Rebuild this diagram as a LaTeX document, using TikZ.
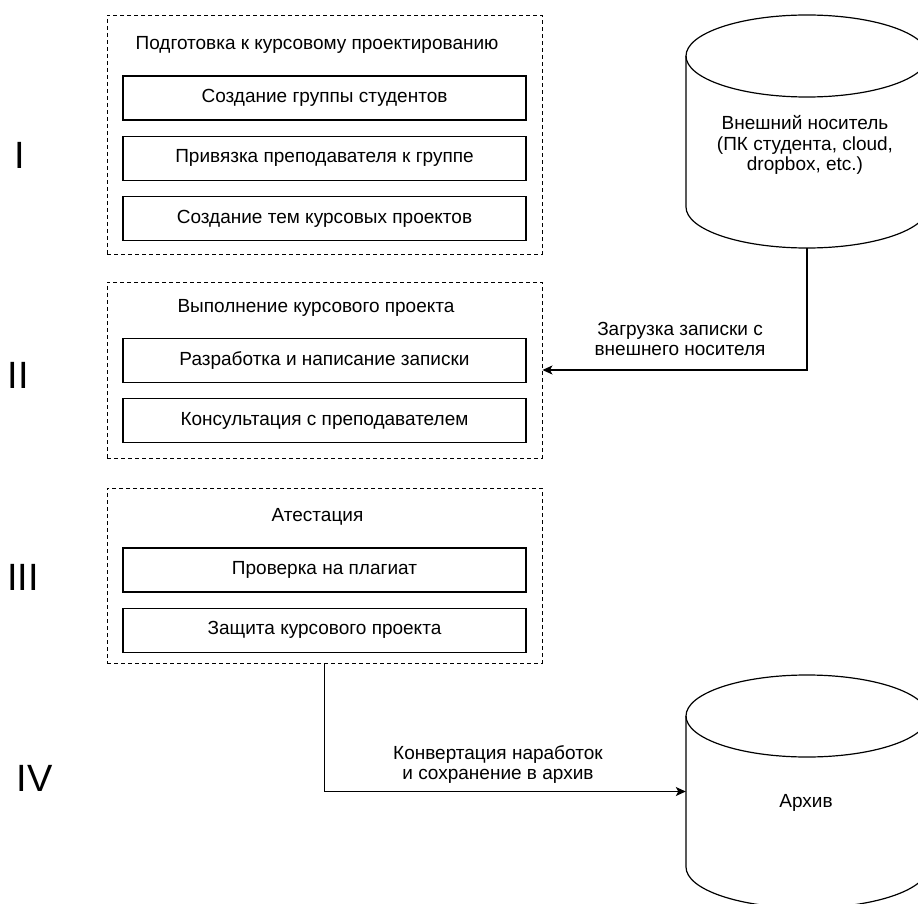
\documentclass[tikz,border=0pt]{standalone}
\usepackage{fontspec}
\setmainfont{Liberation Sans}
\usetikzlibrary{arrows.meta,positioning}

\begin{document}
\begin{tikzpicture}[x=1pt,y=-1pt,>={Stealth[length=10pt,width=9pt,inset=2.5pt]},
    every node/.style={font=\fontsize{19}{20.5}\selectfont},
    group/.style={draw,dash pattern=on 4pt off 3pt,line width=0.9pt,minimum width=435pt,inner sep=0pt},
    task/.style={draw,line width=1.2pt,minimum width=403pt,minimum height=44pt,inner sep=0pt},
    stage/.style={font=\fontsize{38}{40}\selectfont,inner sep=0pt},
    store/.style={minimum width=242pt,minimum height=233pt,inner sep=0pt},
    flow/.style={->,line width=1.2pt},
    note/.style={align=center}]
    \useasboundingbox (0,0) rectangle (918,904);
    % stages
    \node[stage] (s1) at (19.5,155) {I};
    \node[stage] (s2) at (18.5,375.5) {II};
    \node[stage] (s3) at (23,577) {III};
    \node[stage] (s4) at (34.5,778) {IV};
    % I
    \node[group,minimum height=239pt] (prep) at (324.5,134.5) {};
    \node (prepT) at (317,45) {Подготовка к курсовому проектированию};
    \node[task] (t11) at (324.5,98) {Создание группы студентов};
    \node[task,below=15pt of t11] (t12) {Привязка преподавателя к группе};
    \node[task,below=15pt of t12] (t13) {Создание тем курсовых проектов};
    % II
    \node[group,minimum height=176pt] (work) at (324.5,370) {};
    \node (workT) at (316,308) {Выполнение курсового проекта};
    \node[task] (t21) at (324.5,360.5) {Разработка и написание записки};
    \node[task,below=15pt of t21] (t22) {Консультация с преподавателем};
    % III
    \node[group,minimum height=175pt] (attest) at (324.5,575.5) {};
    \node (attestT) at (317.5,517) {Атестация};
    \node[task] (t31) at (324.5,570) {Проверка на плагиат};
    \node[task,below=15pt of t31] (t32) {Защита курсового проекта};
    % storages
    \node[store] (ext) at (807,131.5) {};
    \draw[line width=1.2pt] (686,56) -- (686,207) arc[start angle=180,end angle=0,x radius=121,y radius=41] -- (928,56);
    \draw[line width=1.2pt] (807,56) ellipse[x radius=121,y radius=41];
    \node[note] (extT) at (805,145) {Внешний носитель\\(ПК студента, cloud,\\dropbox, etc.)};
    \node[store] (arch) at (807,791.5) {};
    \draw[line width=1.2pt] (686,716) -- (686,867) arc[start angle=180,end angle=0,x radius=121,y radius=41] -- (928,716);
    \draw[line width=1.2pt] (807,716) ellipse[x radius=121,y radius=41];
    \node (archT) at (806,803) {Архив};
    % flows
    \draw[flow] (ext.south) |- (work.east)
      node[note,pos=0.74,above=10pt] {Загрузка записки с\\внешнего носителя};
    \draw[flow] (attest.south) |- (arch.west)
      node[note,pos=0.74,above=4pt] {Конвертация наработок\\и сохранение в архив};
\end{tikzpicture}
\end{document}
